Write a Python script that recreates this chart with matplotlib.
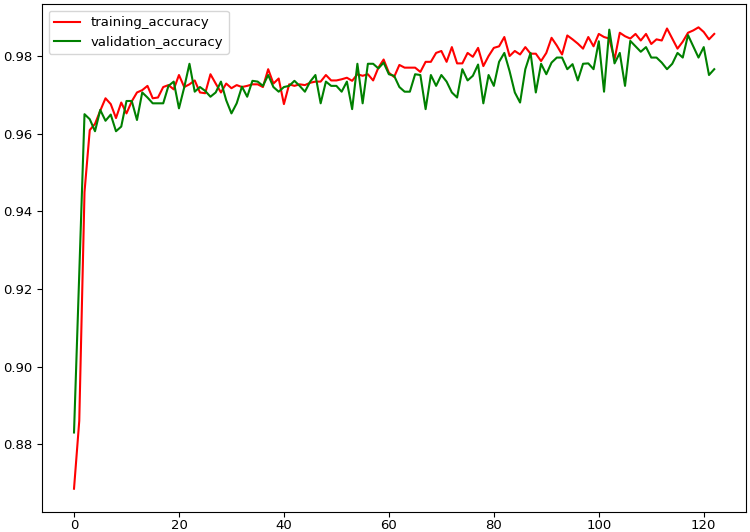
import matplotlib
matplotlib.use("Agg")
import matplotlib.pyplot as plt

# accuracy per epoch
training_accuracy = [
    0.8685, 0.886, 0.945, 0.961, 0.9626, 0.966, 0.9692, 0.9677, 0.9641, 0.9681,
    0.9653, 0.9684, 0.9707, 0.9713, 0.9724, 0.9692, 0.9694, 0.9721, 0.9726, 0.9715,
    0.9752, 0.9721, 0.9728, 0.9738, 0.9707, 0.9705, 0.9754, 0.973, 0.9707, 0.973,
    0.9718, 0.9726, 0.9721, 0.9724, 0.9728, 0.9728, 0.9721, 0.9767, 0.973, 0.9743,
    0.9677, 0.9728, 0.9724, 0.9728, 0.9726, 0.9732, 0.9735, 0.9735, 0.9752, 0.9738,
    0.9738, 0.9741, 0.9745, 0.9737, 0.9754, 0.975, 0.9754, 0.9738, 0.9771, 0.9792,
    0.9758, 0.9747, 0.9778, 0.9771, 0.9771, 0.9771, 0.976, 0.9786, 0.9786, 0.9809,
    0.9814, 0.9786, 0.9824, 0.9782, 0.9782, 0.9809, 0.9799, 0.9822, 0.9775, 0.9801,
    0.9822, 0.9826, 0.985, 0.9801, 0.9814, 0.9805, 0.9824, 0.9807, 0.9807, 0.9788,
    0.9809, 0.9848, 0.9828, 0.9805, 0.9854, 0.9844, 0.9833, 0.982, 0.985, 0.9826,
    0.9858, 0.985, 0.9846, 0.9792, 0.9861, 0.9852, 0.9846, 0.9858, 0.9841, 0.9858,
    0.9832, 0.9844, 0.9841, 0.9872, 0.9846, 0.982, 0.9838, 0.9861, 0.9867, 0.9875,
    0.9863, 0.9844, 0.9858,
]
validation_accuracy = [
    0.883, 0.924, 0.9651, 0.9638, 0.9607, 0.9662, 0.9634, 0.965, 0.9607, 0.9619,
    0.9685, 0.9685, 0.9636, 0.9707, 0.9694, 0.9679, 0.9679, 0.9679, 0.9724, 0.9735,
    0.9666, 0.972, 0.9781, 0.9709, 0.9721, 0.9711, 0.9696, 0.9707, 0.9735, 0.9687,
    0.9653, 0.9679, 0.9722, 0.9696, 0.9737, 0.9735, 0.9724, 0.9752, 0.9721, 0.9709,
    0.9721, 0.9724, 0.9737, 0.9724, 0.9709, 0.9735, 0.9752, 0.9679, 0.9735, 0.9724,
    0.9724, 0.9709, 0.9735, 0.9664, 0.9781, 0.9679, 0.9781, 0.9781, 0.9769, 0.9784,
    0.9754, 0.975, 0.9721, 0.9709, 0.9709, 0.9754, 0.9752, 0.9664, 0.9752, 0.9724,
    0.9752, 0.9735, 0.9707, 0.9694, 0.9767, 0.9738, 0.975, 0.9779, 0.9679, 0.9752,
    0.9724, 0.9786, 0.9809, 0.9762, 0.9707, 0.9681, 0.9767, 0.9809, 0.9707, 0.9781,
    0.9754, 0.9784, 0.9797, 0.9797, 0.9767, 0.978, 0.9738, 0.9781, 0.9782, 0.9767,
    0.9839, 0.9709, 0.9869, 0.9782, 0.9809, 0.9724, 0.984, 0.9826, 0.9812, 0.9824,
    0.9797, 0.9797, 0.9784, 0.9767, 0.9781, 0.9809, 0.9797, 0.9855, 0.9826, 0.9797,
    0.9824, 0.9752, 0.9767,
]
epochs = list(range(len(training_accuracy)))

plt.rcParams['font.size'] = 9.5
fig = plt.figure(figsize=(7.5, 5.32), dpi=100)
fig.subplots_adjust(left=0.056, right=0.995, bottom=0.038, top=0.992)
plt.plot(epochs, training_accuracy, color='red', label='training_accuracy')
plt.plot(epochs, validation_accuracy, color='green', label='validation_accuracy')
plt.tick_params(axis='x', pad=2)
plt.legend(loc='upper left')
plt.savefig('out.png', dpi=100)
